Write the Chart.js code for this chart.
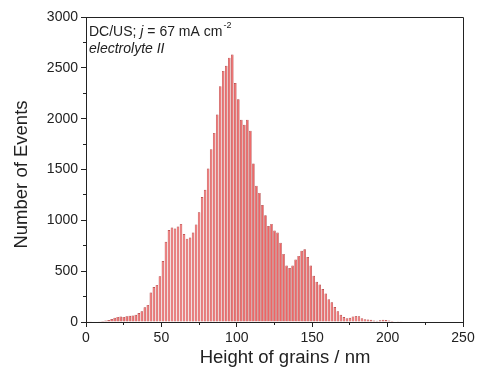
<!DOCTYPE html>
<html><head><meta charset="utf-8">
<script src="https://cdn.jsdelivr.net/npm/chart.js@4"></script>
<style>html,body{margin:0;padding:0;background:#fff}canvas{display:block}</style>
</head><body>
<canvas id="c" width="483" height="378"></canvas>
<script>
// Histogram bins (centre of each 2 nm bin, nm)
const binCenters = [1,3,5,7,9,11,13,15,17,19,21,23,25,27,29,31,33,35,37,39,
  41,43,45,47,49,51,53,55,57,59,61,63,65,67,69,71,73,75,77,79,
  81,83,85,87,89,91,93,95,97,99,101,103,105,107,109,111,113,115,117,119,
  121,123,125,127,129,131,133,135,137,139,141,143,145,147,149,151,153,155,157,159,
  161,163,165,167,169,171,173,175,177,179,181,183,185,187,189,191,193,195,197,199,
  201,203,205,207,209];
// Number of events per bin
const counts = [2,3,4,6,8,11,15,20,30,42,50,54,50,57,62,65,72,88,105,145,
  168,290,345,365,450,600,790,905,930,920,940,965,865,820,830,880,960,1080,1230,1300,
  1510,1700,1860,2040,2320,2470,2520,2600,2630,2350,2190,1990,1940,1990,1880,1560,1340,1270,1150,1050,
  945,965,900,880,780,670,555,530,555,615,650,700,715,640,555,455,395,368,325,280,
  225,195,148,105,72,48,38,42,55,60,57,38,28,24,22,15,13,17,22,20,
  14,9,5,3,2];
const xMajorStep = 50, xMinorStep = 25, xMin = 0, xMax = 250;
const yMajorStep = 500, yMinorStep = 250, yMin = 0, yMax = 3000;
const xTitle = 'Height of grains / nm';
const yTitle = 'Number of Events';

const FONT = "'Liberation Sans', Arial, sans-serif";
const INK = '#222';

const textPlugin = {
  id: 'textPlugin',
  afterDraw(chart) {
    const {ctx, chartArea: a} = chart;
    ctx.save();
    ctx.strokeStyle = INK; ctx.lineWidth = 1;
    ctx.beginPath();
    ctx.moveTo(a.left, a.top + 0.5); ctx.lineTo(a.right + 0.5, a.top + 0.5);
    ctx.lineTo(a.right + 0.5, a.bottom);
    ctx.stroke();
    ctx.fillStyle = INK;
    ctx.textBaseline = 'middle';
    ctx.font = "18.5px " + FONT;
    ctx.textAlign = 'center';
    ctx.fillText(xTitle, 285, 358);
    ctx.save();
    ctx.translate(22, (a.top + a.bottom) / 2 + 5);
    ctx.rotate(-Math.PI / 2);
    ctx.fillText(yTitle, 0, 0);
    ctx.restore();
    ctx.textAlign = 'left';
    let x = a.left + 3, y = a.top + 15;
    const parts = [['DC/US; ', 'normal'], ['j', 'italic'], [' = 67 mA cm', 'normal']];
    for (const [t, st] of parts) {
      ctx.font = st + " 14px " + FONT;
      ctx.fillText(t, x, y);
      x += ctx.measureText(t).width;
    }
    ctx.font = "9px " + FONT;
    ctx.fillText('-2', x + 1, y - 6);
    ctx.font = "italic 14px " + FONT;
    ctx.fillText('electrolyte II', a.left + 3, y + 17);
    ctx.restore();
  }
};

const plain = v => String(v);

new Chart(document.getElementById('c'), {
  type: 'bar',
  data: {
    datasets: [{
      data: binCenters.map((c, i) => ({x: c, y: counts[i]})),
      backgroundColor: '#f06464',
      borderColor: 'rgba(160,25,25,0.85)',
      borderWidth: 0.7,
      barPercentage: 0.85,
      categoryPercentage: 1,
      xAxisID: 'x', yAxisID: 'y'
    }]
  },
  options: {
    responsive: false, animation: false, devicePixelRatio: 1,
    layout: {padding: {top: 17, right: 20, left: 0, bottom: 0}},
    plugins: {legend: {display: false}, tooltip: {enabled: false}},
    scales: {
      x: {
        type: 'linear', position: 'bottom', weight: 1, min: xMin, max: xMax, offset: false,
        ticks: {stepSize: xMajorStep, font: {family: FONT, size: 14}, color: INK, padding: 3, autoSkip: false, maxRotation: 0, callback: plain},
        grid: {drawOnChartArea: false, tickLength: 5, color: INK, offset: false},
        border: {display: true, color: INK, width: 1},
        afterFit(s) { s.height = 56; }
      },
      x2: {
        type: 'linear', position: 'bottom', weight: 0, min: xMin, max: xMax, offset: false,
        ticks: {stepSize: xMinorStep, display: false},
        grid: {drawOnChartArea: false, tickLength: 3, color: INK, offset: false},
        border: {display: false},
        afterFit(s) { s.height = 0; }
      },
      y: {
        type: 'linear', position: 'left', weight: 1, min: yMin, max: yMax,
        ticks: {stepSize: yMajorStep, font: {family: FONT, size: 14}, color: INK, padding: 3, callback: plain},
        grid: {drawOnChartArea: false, tickLength: 5, color: INK},
        border: {display: true, color: INK, width: 1},
        afterFit(s) { s.width = 86; }
      },
      y2: {
        type: 'linear', position: 'left', weight: 0, min: yMin, max: yMax,
        ticks: {stepSize: yMinorStep, display: false},
        grid: {drawOnChartArea: false, tickLength: 3, color: INK},
        border: {display: false},
        afterFit(s) { s.width = 0; }
      }
    }
  },
  plugins: [textPlugin]
});
</script>
</body></html>
